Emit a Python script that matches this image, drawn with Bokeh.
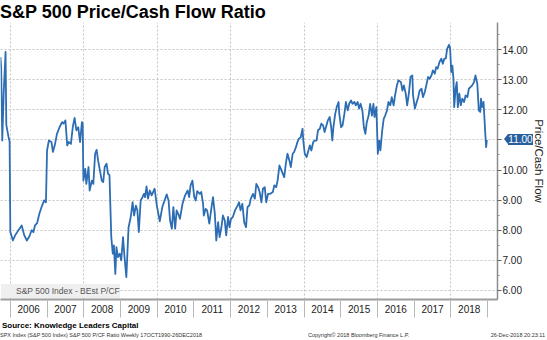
import html
from bokeh.plotting import figure
from bokeh.models import (Range1d, FixedTicker, Legend, LegendItem,
                          CustomJSTickFormatter, Div)
from bokeh.layouts import column
from bokeh.embed import file_html
from bokeh.resources import INLINE

# ---- data (decimal years, S&P 500 BEst P/CF) ----
dates = [2005.73, 2005.75, 2005.78, 2005.82, 2005.87, 2005.89, 2005.95, 2005.98,
         2006.00, 2006.07, 2006.13, 2006.22, 2006.31, 2006.38, 2006.45, 2006.52,
         2006.58, 2006.63, 2006.67, 2006.73, 2006.79, 2006.85, 2006.92, 2006.97,
         2007.00, 2007.05, 2007.12, 2007.16, 2007.21, 2007.27, 2007.34, 2007.41,
         2007.45, 2007.50, 2007.55, 2007.59, 2007.65, 2007.70, 2007.75, 2007.80,
         2007.85, 2007.90, 2007.95, 2007.97, 2007.99, 2008.04, 2008.07, 2008.13,
         2008.16, 2008.22, 2008.26, 2008.31, 2008.35, 2008.39, 2008.44, 2008.49,
         2008.53, 2008.57, 2008.62, 2008.66, 2008.70, 2008.75, 2008.79, 2008.82,
         2008.86, 2008.89, 2008.93, 2008.98, 2009.02, 2009.07, 2009.11, 2009.16,
         2009.22, 2009.28, 2009.33, 2009.37, 2009.42, 2009.46, 2009.50, 2009.55,
         2009.60, 2009.64, 2009.67, 2009.71, 2009.75, 2009.80, 2009.85, 2009.93,
         2009.99, 2010.07, 2010.14, 2010.20, 2010.26, 2010.31, 2010.35, 2010.40,
         2010.44, 2010.49, 2010.53, 2010.59, 2010.62, 2010.69, 2010.76, 2010.83,
         2010.87, 2010.91, 2010.96, 2011.01, 2011.05, 2011.09, 2011.16, 2011.20,
         2011.25, 2011.27, 2011.32, 2011.36, 2011.42, 2011.48, 2011.52, 2011.57,
         2011.61, 2011.66, 2011.70, 2011.75, 2011.79, 2011.84, 2011.88, 2011.93,
         2011.97, 2012.01, 2012.06, 2012.12, 2012.19, 2012.23, 2012.27, 2012.32,
         2012.37, 2012.42, 2012.46, 2012.51, 2012.55, 2012.61, 2012.66, 2012.70,
         2012.75, 2012.79, 2012.84, 2012.88, 2012.93, 2012.97, 2013.02, 2013.08,
         2013.15, 2013.19, 2013.24, 2013.28, 2013.33, 2013.37, 2013.42, 2013.46,
         2013.51, 2013.55, 2013.60, 2013.64, 2013.69, 2013.73, 2013.78, 2013.82,
         2013.86, 2013.91, 2013.96, 2013.98, 2014.02, 2014.07, 2014.12, 2014.16,
         2014.20, 2014.25, 2014.29, 2014.34, 2014.38, 2014.43, 2014.47, 2014.52,
         2014.56, 2014.61, 2014.65, 2014.70, 2014.74, 2014.77, 2014.80, 2014.85,
         2014.89, 2014.94, 2014.96, 2015.01, 2015.05, 2015.10, 2015.14, 2015.19,
         2015.23, 2015.28, 2015.32, 2015.37, 2015.41, 2015.46, 2015.50, 2015.54,
         2015.59, 2015.63, 2015.67, 2015.71, 2015.76, 2015.80, 2015.85, 2015.89,
         2015.92, 2015.97, 2016.01, 2016.05, 2016.08, 2016.13, 2016.17, 2016.21,
         2016.26, 2016.30, 2016.35, 2016.39, 2016.44, 2016.48, 2016.53, 2016.57,
         2016.64, 2016.68, 2016.72, 2016.77, 2016.81, 2016.86, 2016.90, 2016.95,
         2016.97, 2017.02, 2017.07, 2017.11, 2017.15, 2017.20, 2017.24, 2017.29,
         2017.33, 2017.38, 2017.42, 2017.47, 2017.51, 2017.56, 2017.60, 2017.64,
         2017.69, 2017.74, 2017.78, 2017.82, 2017.86, 2017.90, 2017.95, 2017.98,
         2018.01, 2018.04, 2018.07, 2018.09, 2018.13, 2018.16, 2018.19, 2018.23,
         2018.27, 2018.31, 2018.36, 2018.40, 2018.45, 2018.49, 2018.54, 2018.58,
         2018.63, 2018.67, 2018.72, 2018.76, 2018.80, 2018.82, 2018.85, 2018.89,
         2018.92, 2018.94, 2018.96, 2018.98]

values = [13.75, 13.40, 10.98, 12.60, 13.92, 11.50, 11.10, 10.95,
          7.94, 7.66, 7.83, 8.00, 8.16, 7.83, 7.66, 7.80,
          8.00, 7.94, 8.16, 8.24, 8.55, 8.77, 8.99, 8.93,
          10.65, 10.98, 10.93, 10.60, 10.82, 11.20, 11.42, 11.59,
          11.54, 11.65, 10.82, 10.93, 10.87, 11.42, 11.73, 11.32,
          11.42, 10.93, 11.59, 11.54, 9.65, 10.04, 9.54, 10.10,
          9.32, 9.65, 9.54, 10.54, 10.67, 10.32, 9.99, 9.65,
          9.60, 10.10, 10.21, 9.88, 9.83, 7.77, 7.22, 7.50,
          6.55, 7.44, 7.11, 7.22, 7.00, 7.77, 7.11, 6.44,
          8.10, 8.44, 8.93, 8.49, 8.82, 8.66, 7.94, 8.99,
          9.10, 9.21, 9.10, 9.46, 9.05, 9.32, 9.16, 9.38,
          8.82, 8.30, 8.77, 8.99, 9.19, 8.99, 8.33, 8.05,
          8.77, 8.05, 8.66, 8.49, 8.38, 8.88, 9.16, 9.32,
          9.10, 9.49, 9.65, 9.10, 8.99, 9.30, 9.21, 9.27,
          8.88, 8.49, 8.71, 8.66, 8.22, 8.77, 9.10, 8.55,
          7.66, 8.27, 7.77, 8.10, 8.49, 8.33, 7.83, 8.44,
          8.10, 8.38, 8.44, 8.66, 8.82, 8.93, 8.66, 8.88,
          8.27, 8.10, 8.77, 8.82, 9.05, 9.21, 9.05, 9.54,
          9.43, 9.27, 8.93, 9.38, 9.43, 8.93, 9.21, 9.21,
          9.27, 9.49, 9.43, 9.65, 10.15, 10.04, 9.88, 9.76,
          10.26, 10.54, 10.32, 10.10, 10.54, 10.60, 10.76, 10.93,
          11.04, 11.09, 11.37, 10.98, 10.54, 10.43, 10.65, 10.82,
          10.65, 10.93, 10.98, 10.98, 11.32, 11.37, 11.54, 11.48,
          11.26, 11.48, 11.65, 11.76, 11.42, 10.98, 11.42, 11.87,
          12.09, 12.26, 11.87, 11.42, 11.48, 11.87, 12.26, 11.98,
          12.20, 12.31, 12.20, 12.26, 12.15, 12.26, 12.04, 12.20,
          11.98, 11.42, 11.20, 11.59, 11.81, 12.20, 11.81, 12.20,
          11.76, 12.09, 10.54, 10.98, 10.65, 11.32, 11.70, 11.81,
          11.98, 12.26, 12.15, 12.42, 12.15, 12.48, 12.81, 12.98,
          12.92, 12.64, 12.81, 12.54, 12.15, 12.59, 13.09, 13.14,
          12.48, 12.04, 12.26, 12.42, 12.64, 12.70, 12.42, 12.59,
          12.81, 13.09, 13.03, 13.14, 13.31, 13.20, 13.42, 13.37,
          13.59, 13.70, 13.53, 13.70, 13.70, 14.03, 14.16, 14.03,
          13.25, 13.47, 13.03, 12.09, 12.70, 12.92, 12.09, 12.54,
          12.15, 12.37, 12.26, 12.48, 12.42, 12.70, 12.76, 12.81,
          12.92, 13.14, 12.87, 11.98, 11.93, 12.37, 12.09, 12.26,
          11.59, 11.15, 10.76, 11.00]

years = [2006, 2007, 2008, 2009, 2010, 2011, 2012, 2013, 2014, 2015, 2016, 2017, 2018]
year_bounds = [2006, 2007, 2008, 2009, 2010, 2011, 2012, 2013, 2014, 2015, 2016, 2017, 2018, 2019]
grid_years = [2006, 2008, 2010, 2012, 2014, 2016, 2018]
y_ticks = [6, 7, 8, 9, 10, 11, 12, 13, 14]
y_minor = [5.5, 6.5, 7.5, 8.5, 9.5, 10.5, 11.5, 12.5, 13.5, 14.5]

title_text = "S&P 500 Price/Cash Flow Ratio"
series_name = "S&P 500 Index - BEst P/CF"
y_label = "Price/Cash Flow"
source_text = "Source: Knowledge Leaders Capital"
footer_left = "SPX Index (S&P 500 Index) S&P 500 P/CF Ratio  Weekly 17OCT1990-26DEC2018"
footer_mid = "Copyright\u00a9 2018 Bloomberg Finance L.P."
footer_right = "26-Dec-2018 20:23:11"

BLUE = "#2d6db3"
TAG_BLUE = "#2a5f9e"
FONT = "Liberation Sans"
W = 547
TOP_H = 22
MAIN_H = 296
FOOT_H = 22

X0, X1 = 2005.732, 2019.27
Y0, Y1 = 5.70, 14.90
MIN_B_BOTTOM = 19

BASE = "position:absolute;white-space:nowrap;margin:0;padding:0;line-height:1;"


def span(txt, css):
    return '<span style="%s%s">%s</span>' % (BASE, css, html.escape(txt))


# ---- title strip (HTML) ----
title_html = ('<div style="position:relative;width:%dpx;height:%dpx;overflow:visible;">' % (W, TOP_H)
              + span(title_text, "left:0px;top:3px;font-family:'%s';font-weight:bold;"
                     "font-size:18px;color:#000;" % FONT)
              + '</div>')
top = Div(text=title_html, width=W, height=TOP_H, margin=0)

# ---- main chart ----
p = figure(width=W, height=MAIN_H, x_range=Range1d(X0, X1), y_range=Range1d(Y0, Y1),
           y_axis_location="right", title=None,
           output_backend="svg", toolbar_location=None,
           min_border_left=0, min_border_right=42, min_border_top=0,
           min_border_bottom=MIN_B_BOTTOM)
p.outline_line_color = None
p.background_fill_color = "white"
p.border_fill_color = "white"

p.xgrid.ticker = FixedTicker(ticks=grid_years)
for g in (p.xgrid[0], p.ygrid[0]):
    g.grid_line_color = "#c4c4c4"
    g.grid_line_dash = "2 2"
    g.grid_line_width = 1

xa = p.xaxis[0]
xa.ticker = FixedTicker(ticks=[y + 0.5 for y in years], minor_ticks=year_bounds)
xa.formatter = CustomJSTickFormatter(code="return Math.floor(tick).toString();")
xa.major_tick_out = 0
xa.major_tick_in = 0
xa.minor_tick_out = 18
xa.minor_tick_in = 0
xa.minor_tick_line_color = "#b8b8b8"
xa.axis_line_color = "#9c9c9c"
xa.axis_line_width = 2
xa.major_label_standoff = -13
xa.major_label_text_font = FONT
xa.major_label_text_font_size = "10px"
xa.major_label_text_color = "#222222"

last = values[-1]

ya = p.yaxis[0]
ya.ticker = FixedTicker(ticks=y_ticks, minor_ticks=y_minor)
# the tick at the last value is covered by the last-value tag
ya.formatter = CustomJSTickFormatter(args=dict(last=round(last)),
                                     code="return tick == last ? '' : tick.toFixed(2);")
ya.axis_line_color = "#8c8c8c"
ya.axis_line_width = 1.5
ya.major_tick_out = 4
ya.major_tick_in = 0
ya.major_tick_line_color = "#666666"
ya.minor_tick_out = 2
ya.minor_tick_in = 0
ya.minor_tick_line_color = "#888888"
ya.major_label_standoff = 1
ya.major_label_text_font = FONT
ya.major_label_text_font_size = "10px"
ya.major_label_text_color = "#222222"
ya.axis_label = y_label
ya.axis_label_text_font = FONT
ya.axis_label_text_font_style = "normal"
ya.axis_label_text_font_size = "11.5px"
ya.axis_label_text_color = "#222222"
ya.axis_label_standoff = 2

p.line(dates, values, line_color=BLUE, line_width=1.8, line_join="round")

sq = p.scatter(x=[], y=[], marker="square", size=6, color=BLUE)
legend = Legend(items=[LegendItem(label=series_name, renderers=[sq])],
                location="bottom_left", margin=1, padding=1, spacing=0,
                glyph_width=14, glyph_height=14, label_height=14, label_standoff=1,
                background_fill_color="#efefef", background_fill_alpha=1,
                border_line_color=None,
                label_text_font=FONT, label_text_font_size="8.5px",
                label_text_color="#555555")
p.add_layout(legend)

# ---- last-value tag: computed from the y scale, drawn as an HTML overlay ----
frame_h = MAIN_H - MIN_B_BOTTOM
tag_cy = TOP_H + frame_h * (Y1 - last) / (Y1 - Y0)        # canvas y of last value
foot_top = TOP_H + MAIN_H
tag_h = 11
tag_top = tag_cy - tag_h / 2.0 - foot_top                  # relative to footer strip
tag_html = (
    '<span style="position:absolute;left:504px;top:%.1fpx;width:0;height:0;'
    'border-top:%.1fpx solid transparent;border-bottom:%.1fpx solid transparent;'
    'border-right:4px solid %s;"></span>' % (tag_top, tag_h / 2.0, tag_h / 2.0, TAG_BLUE)
    + '<span style="position:absolute;left:508px;top:%.1fpx;width:25px;height:%dpx;'
      'background:%s;color:#fff;font-family:\'%s\';font-size:10px;line-height:%dpx;'
      'text-align:center;white-space:nowrap;">%s</span>'
    % (tag_top, tag_h, TAG_BLUE, FONT, tag_h, "%.2f" % last)
)

# ---- footer strip (HTML) ----
foot_html = ('<div style="position:relative;width:%dpx;height:%dpx;overflow:visible;">' % (W, FOOT_H)
             + span(source_text, "left:2px;top:4px;font-family:'%s';font-weight:bold;"
                    "font-size:8px;color:#000;" % FONT)
             + span(footer_left, "left:0px;top:15px;font-family:'%s';font-size:5.5px;"
                    "color:#333;" % FONT)
             + span(footer_mid, "left:308px;top:15px;font-family:'%s';font-size:5.5px;"
                    "color:#333;" % FONT)
             + span(footer_right, "right:2px;top:15px;font-family:'%s';font-size:5.5px;"
                    "color:#333;" % FONT)
             + tag_html
             + '</div>')
foot = Div(text=foot_html, width=W, height=FOOT_H, margin=0,
           styles={"overflow": "visible", "z-index": "10", "position": "relative"})

layout = column(top, p, foot, spacing=0)
open("out.html", "w").write(file_html(layout, INLINE))
